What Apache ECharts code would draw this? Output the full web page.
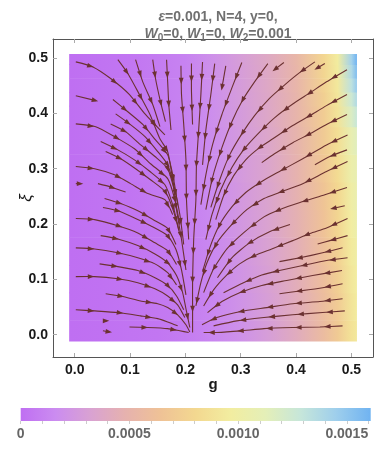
<!DOCTYPE html>
<html>
<head>
<meta charset="utf-8">
<script src="https://cdn.jsdelivr.net/npm/echarts@6.0.0/dist/echarts.min.js"></script>
<style>html,body{margin:0;padding:0;background:#fff}#main{width:375px;height:450px}</style>
</head>
<body>
<div id="main"></div>
<script>
// background density (units of 1e-4)
var gCols = [-0.01, 0.05, 0.1, 0.15, 0.2, 0.25, 0.3, 0.35, 0.4, 0.45, 0.475, 0.5, 0.51];
var xiRows = [0, 0.05, 0.1, 0.15, 0.2, 0.25, 0.3, 0.35, 0.4, 0.425, 0.45, 0.475, 0.5];
var densityE4 = [
	[0, 0.1, 0.3, 0.4, 0.7, 1.3, 2.0, 2.9, 4.1, 5.8, 7.0, 8.8, 9.3],
	[0, 0.1, 0.3, 0.5, 0.7, 1.3, 2.1, 3.0, 4.2, 5.9, 7.1, 9.0, 9.5],
	[0, 0.1, 0.3, 0.5, 0.8, 1.4, 2.2, 3.1, 4.3, 6.0, 7.3, 9.2, 9.7],
	[0, 0.1, 0.3, 0.5, 0.8, 1.4, 2.3, 3.2, 4.4, 6.2, 7.5, 9.4, 10.0],
	[0, 0.2, 0.3, 0.5, 0.9, 1.5, 2.4, 3.3, 4.6, 6.4, 7.8, 9.7, 10.3],
	[0, 0.2, 0.3, 0.6, 0.9, 1.6, 2.5, 3.4, 4.7, 6.6, 8.0, 10.0, 10.6],
	[0, 0.2, 0.4, 0.6, 1.0, 1.7, 2.6, 3.5, 4.8, 6.8, 8.3, 10.3, 10.8],
	[0, 0.2, 0.4, 0.6, 1.0, 1.7, 2.6, 3.6, 4.9, 7.0, 8.5, 10.8, 11.5],
	[0, 0.2, 0.4, 0.7, 1.0, 1.8, 2.7, 3.7, 5.0, 7.2, 8.9, 11.8, 12.8],
	[0, 0.2, 0.4, 0.7, 1.1, 1.85, 2.75, 3.75, 5.05, 7.4, 9.1, 12.5, 13.8],
	[0, 0.2, 0.4, 0.7, 1.1, 1.9, 2.8, 3.8, 5.1, 7.6, 9.3, 13.2, 14.8],
	[0, 0.2, 0.4, 0.7, 1.1, 1.95, 2.85, 3.85, 5.15, 7.8, 9.5, 13.8, 15.6],
	[0, 0.2, 0.4, 0.7, 1.1, 2.0, 2.9, 3.9, 5.2, 7.9, 9.6, 14.3, 16.2]
];
var vMax = 0.00161;
var palette = ['#bf6ff2', '#cb8cf0', '#d9a2d2', '#e6b2ae', '#efc296', '#f3d890', '#f2eda0', '#e4efb8', '#c6e6da', '#9fcfec', '#70b3f1'];

var xTicks = [0, 0.1, 0.2, 0.3, 0.4, 0.5];
var yTicks = [0, 0.1, 0.2, 0.3, 0.4, 0.5];
var barLabels = [0, 0.0005, 0.001, 0.0015];
var barTicks = [0, 0.0001, 0.0002, 0.0003, 0.0004, 0.0005, 0.0006, 0.0007, 0.0008, 0.0009, 0.001, 0.0011, 0.0012, 0.0013, 0.0014, 0.0015, 0.0016];

// stream lines [g, xi], in flow order
var leftStreams = [
	[[0.002,0.493],[0.033,0.484],[0.065,0.463],[0.099,0.434],[0.127,0.399],[0.163,0.361]],
	[[0.002,0.432],[0.038,0.423]],
	[[0.078,0.497],[0.096,0.472],[0.117,0.434],[0.136,0.398],[0.154,0.354],[0.168,0.331],[0.177,0.280],[0.184,0.226],[0.193,0.172],[0.201,0.117]],
	[[0.110,0.497],[0.123,0.457],[0.141,0.416],[0.154,0.376]],
	[[0.141,0.497],[0.146,0.463],[0.155,0.421],[0.164,0.385]],
	[[0.069,0.425],[0.096,0.403],[0.123,0.380],[0.146,0.352],[0.168,0.325],[0.179,0.280],[0.186,0.235]],
	[[0.074,0.399],[0.099,0.381],[0.127,0.358],[0.150,0.331],[0.168,0.307],[0.181,0.262],[0.190,0.217],[0.197,0.163]],
	[[0.002,0.381],[0.038,0.376],[0.072,0.358],[0.108,0.336],[0.137,0.309],[0.168,0.282],[0.181,0.244],[0.190,0.199]],
	[[0.065,0.381],[0.092,0.367],[0.117,0.345],[0.145,0.322],[0.168,0.300],[0.181,0.257]],
	[[0.047,0.349],[0.078,0.334],[0.108,0.316],[0.136,0.295],[0.163,0.271],[0.177,0.235],[0.188,0.190]],
	[[0.056,0.331],[0.083,0.318],[0.110,0.300],[0.137,0.280],[0.164,0.258],[0.179,0.222],[0.190,0.181]],
	[[0.002,0.304],[0.036,0.300],[0.072,0.289],[0.101,0.273],[0.132,0.255],[0.163,0.244],[0.177,0.217]],
	[[0.002,0.273],[0.011,0.273]],
	[[0.042,0.273],[0.065,0.267],[0.092,0.258]],
	[[0.054,0.246],[0.083,0.237],[0.114,0.224],[0.145,0.206],[0.168,0.192],[0.183,0.163]],
	[[0.051,0.230],[0.078,0.224],[0.108,0.211],[0.137,0.197],[0.168,0.179],[0.183,0.154],[0.193,0.117],[0.201,0.072]],
	[[0.002,0.210],[0.036,0.208],[0.078,0.197],[0.114,0.184],[0.145,0.166],[0.168,0.152],[0.184,0.127]],
	[[0.047,0.179],[0.078,0.173],[0.114,0.161],[0.145,0.146],[0.168,0.130],[0.184,0.107],[0.195,0.076],[0.202,0.042],[0.208,0.013]],
	[[0.002,0.157],[0.036,0.155],[0.078,0.148],[0.114,0.139],[0.145,0.128],[0.168,0.112],[0.184,0.090]],
	[[0.045,0.128],[0.078,0.123],[0.114,0.116],[0.145,0.103],[0.168,0.089],[0.184,0.070],[0.197,0.045]],
	[[0.002,0.105],[0.036,0.105],[0.078,0.101],[0.114,0.094],[0.145,0.083],[0.168,0.070],[0.186,0.054],[0.199,0.031]],
	[[0.056,0.074],[0.087,0.069],[0.119,0.061],[0.150,0.056],[0.168,0.049],[0.186,0.036],[0.201,0.018],[0.208,0.005]],
	[[0.002,0.045],[0.036,0.043],[0.078,0.040],[0.119,0.034],[0.150,0.029],[0.168,0.023],[0.186,0.016]],
	[[0.054,0.025],[0.058,0.025]],
	[[0.051,0.007],[0.063,0.005]],
	[[0.099,0.014],[0.132,0.013],[0.168,0.011],[0.190,0.007],[0.206,0.004]]
];
var centerStreams = [
	[[0.166,0.497],[0.168,0.457],[0.170,0.416],[0.174,0.370]],
	[[0.192,0.486],[0.193,0.434],[0.197,0.380],[0.201,0.316],[0.202,0.244],[0.206,0.172]],
	[[0.211,0.490],[0.211,0.439],[0.213,0.380]],
	[[0.231,0.493],[0.228,0.434],[0.224,0.370],[0.220,0.307],[0.219,0.244],[0.215,0.172],[0.213,0.099],[0.213,0.045],[0.213,0.004]],
	[[0.253,0.490],[0.246,0.434],[0.237,0.370],[0.231,0.307]],
	[[0.273,0.486],[0.266,0.446]],
	[[0.302,0.492],[0.284,0.446],[0.266,0.398],[0.249,0.343],[0.237,0.289],[0.228,0.235]],
	[[0.349,0.490],[0.325,0.457],[0.304,0.425],[0.284,0.385],[0.266,0.338],[0.249,0.284],[0.237,0.226]],
	[[0.378,0.492],[0.361,0.479]],
	[[0.452,0.490],[0.437,0.481]]
];
var rightStreams = [
	[[0.434,0.493],[0.407,0.474],[0.380,0.452],[0.352,0.427],[0.325,0.396],[0.302,0.363],[0.280,0.325],[0.262,0.280],[0.246,0.230]],
	[[0.492,0.479],[0.455,0.457],[0.425,0.437],[0.394,0.417],[0.361,0.392],[0.331,0.363],[0.305,0.334],[0.284,0.302],[0.264,0.262],[0.248,0.217],[0.237,0.172]],
	[[0.492,0.434],[0.455,0.414],[0.425,0.396],[0.394,0.378],[0.358,0.354],[0.334,0.338],[0.309,0.316],[0.287,0.287],[0.269,0.251],[0.255,0.208]],
	[[0.492,0.398],[0.455,0.380],[0.425,0.363],[0.394,0.347],[0.361,0.327],[0.338,0.311]],
	[[0.493,0.361],[0.455,0.343],[0.412,0.318],[0.370,0.295],[0.338,0.277],[0.309,0.257],[0.284,0.231],[0.262,0.199],[0.244,0.157],[0.231,0.114]],
	[[0.492,0.334],[0.461,0.322],[0.434,0.307]],
	[[0.493,0.313],[0.455,0.295],[0.412,0.273],[0.370,0.257],[0.342,0.246],[0.311,0.226],[0.282,0.197],[0.257,0.166],[0.239,0.130],[0.228,0.094],[0.219,0.052]],
	[[0.492,0.266],[0.452,0.253],[0.407,0.239],[0.370,0.226],[0.342,0.213],[0.305,0.184],[0.275,0.155],[0.251,0.119],[0.233,0.076]],
	[[0.488,0.233],[0.466,0.228]],
	[[0.389,0.199],[0.352,0.186],[0.316,0.166],[0.284,0.139],[0.258,0.103]],
	[[0.493,0.210],[0.455,0.193],[0.425,0.183],[0.394,0.170],[0.356,0.155],[0.325,0.143],[0.298,0.128],[0.275,0.108],[0.251,0.081],[0.233,0.052]],
	[[0.493,0.179],[0.461,0.170],[0.439,0.164]],
	[[0.484,0.157],[0.448,0.148],[0.407,0.139],[0.370,0.132]],
	[[0.493,0.139],[0.455,0.134],[0.412,0.125],[0.370,0.116],[0.338,0.108],[0.305,0.094],[0.269,0.076]],
	[[0.483,0.116],[0.430,0.107],[0.383,0.098],[0.338,0.089],[0.298,0.076],[0.266,0.060],[0.240,0.040]],
	[[0.484,0.092],[0.448,0.085],[0.407,0.079],[0.370,0.074]],
	[[0.484,0.065],[0.443,0.060],[0.394,0.056],[0.347,0.049],[0.300,0.042],[0.257,0.031],[0.230,0.018]],
	[[0.488,0.043],[0.448,0.040],[0.394,0.036],[0.342,0.031],[0.293,0.025],[0.251,0.016]],
	[[0.484,0.016],[0.443,0.014],[0.394,0.013],[0.342,0.011],[0.300,0.007],[0.257,0.004],[0.233,0.004]]
];

var streams = leftStreams.concat(centerStreams, rightStreams);
var lineColor = '#6b3131';
var frameColor = '#555';
var labelFont = {fontSize: 14, fontWeight: 'bold', color: '#1a1a1a'};

function colorOf(v){
	return echarts.color.lerp(Math.max(0, Math.min(v / vMax, 1)), palette);
}

// one horizontal band per density row
function renderBand(params, api){
	var j = params.dataIndex;
	var lo = j === 0 ? -0.0125 : (xiRows[j - 1] + xiRows[j]) / 2;
	var hi = j === xiRows.length - 1 ? 0.5075 : (xiRows[j] + xiRows[j + 1]) / 2;
	var g0 = gCols[0], g1 = gCols[gCols.length - 1];
	var p0 = api.coord([g0, hi]);
	var p1 = api.coord([g1, lo]);
	var stops = gCols.map(function(g, i){
		return {offset: (g - g0) / (g1 - g0), color: colorOf(densityE4[j][i] * 1e-4)};
	});
	var top = j === xiRows.length - 1 ? p0[1] : p0[1] - 0.6;
	return {
		type: 'rect',
		shape: {x: p0[0], y: top, width: p1[0] - p0[0], height: p1[1] - top},
		style: {fill: {type: 'linear', x: 0, y: 0, x2: 1, y2: 0, colorStops: stops}}
	};
}

function renderStream(params, api){
	var pts = streams[params.dataIndex].map(function(p){ return api.coord(p); });
	var kids = [{
		type: 'polyline',
		shape: {points: pts, smooth: 0.2},
		style: {stroke: lineColor, lineWidth: 1.1, fill: 'none'}
	}];
	var seg = [], total = 0;
	for (var i = 1; i < pts.length; i++){
		var d = Math.hypot(pts[i][0] - pts[i - 1][0], pts[i][1] - pts[i - 1][1]);
		seg.push(d);
		total += d;
	}
	var marks = [];
	if (total < 26) marks.push(total - 1);
	else for (var s = 15; s < total - 4; s += 29) marks.push(s);
	marks.forEach(function(s){
		var acc = 0;
		for (var k = 0; k < seg.length; k++){
			if (acc + seg[k] >= s || k === seg.length - 1){
				var t = Math.min(1, (s - acc) / seg[k]);
				var a = pts[k], b = pts[k + 1];
				var ux = (b[0] - a[0]) / seg[k], uy = (b[1] - a[1]) / seg[k];
				var cx = a[0] + (b[0] - a[0]) * t, cy = a[1] + (b[1] - a[1]) * t;
				kids.push({
					type: 'polygon',
					shape: {points: [
						[cx + ux * 3.5, cy + uy * 3.5],
						[cx - ux * 3 - uy * 2.4, cy - uy * 3 + ux * 2.4],
						[cx - ux * 3 + uy * 2.4, cy - uy * 3 - ux * 2.4]
					]},
					style: {fill: lineColor}
				});
				break;
			}
			acc += seg[k];
		}
	});
	return {type: 'group', children: kids};
}

function renderBar(params, api){
	var p0 = api.coord([0, 1]);
	var p1 = api.coord([vMax, 0]);
	return {
		type: 'rect',
		shape: {x: p0[0], y: p0[1], width: p1[0] - p0[0], height: p1[1] - p0[1]},
		style: {fill: {type: 'linear', x: 0, y: 0, x2: 1, y2: 0, colorStops: palette.map(function(c, i){
			return {offset: i / (palette.length - 1), color: c};
		})}}
	};
}

var chart = echarts.init(document.getElementById('main'));
var xMin = -0.0392, xMax = 0.539, yMin = -0.0403, yMax = 0.5344;
var frameTick = {inside: true, length: 4, lineStyle: {color: '#aaa'}};
var titleGray = '#707070';

chart.setOption({
	animation: false,
	backgroundColor: '#ffffff',
	textStyle: {fontFamily: 'Liberation Sans, Arial, sans-serif'},
	title: {
		text: '{i|ε}=0.001, N=4, y=0,\n{i|W}{s|0}=0, {i|W}{s|1}=0, {i|W}{s|2}=0.001',
		left: 213,
		top: 4,
		textAlign: 'center',
		textStyle: {
			fontSize: 14, fontWeight: 'bold', color: titleGray, lineHeight: 17,
			rich: {
				i: {fontSize: 14, fontStyle: 'italic', fontWeight: 'bold', color: titleGray, lineHeight: 17},
				s: {fontSize: 10, fontWeight: 'bold', color: titleGray, lineHeight: 10, verticalAlign: 'top', padding: [7, 0, 0, 0]}
			}
		}
	},
	grid: [
		{left: 53, top: 39, width: 320, height: 318, outerBoundsMode: 'none'},
		{left: 20.7, top: 408, width: 350, height: 13, outerBoundsMode: 'none'}
	],
	xAxis: [
		{
			gridIndex: 0, type: 'value', min: xMin, max: xMax,
			name: 'g', nameLocation: 'middle', nameGap: 20, nameMoveOverlap: false,
			nameTextStyle: {fontSize: 15, fontWeight: 'bold', color: '#1a1a1a'},
			axisLine: {onZero: false, lineStyle: {color: frameColor}},
			axisTick: Object.assign({customValues: xTicks}, frameTick),
			axisLabel: Object.assign({customValues: xTicks, margin: 6, formatter: function(v){ return v.toFixed(1); }}, labelFont),
			splitLine: {show: false}
		},
		{
			gridIndex: 0, type: 'value', position: 'top', min: xMin, max: xMax,
			axisLine: {onZero: false, lineStyle: {color: frameColor}},
			axisTick: Object.assign({customValues: xTicks}, frameTick),
			axisLabel: {show: false},
			splitLine: {show: false}
		},
		{
			gridIndex: 1, type: 'value', min: 0, max: vMax,
			axisLine: {show: false},
			axisTick: {customValues: barTicks, length: 3, lineStyle: {color: '#ccc'}},
			axisLabel: {customValues: barLabels, margin: 6, fontSize: 14, fontWeight: 'bold', color: '#666',
				formatter: function(v){ return v === 0 ? '0' : v.toFixed(4); }},
			splitLine: {show: false}
		}
	],
	yAxis: [
		{
			gridIndex: 0, type: 'value', min: yMin, max: yMax,
			name: 'ξ', nameLocation: 'middle', nameGap: 18, nameRotate: 90, nameMoveOverlap: false,
			nameTextStyle: {fontSize: 17, fontStyle: 'italic', color: '#1a1a1a'},
			axisLine: {onZero: false, lineStyle: {color: frameColor}},
			axisTick: Object.assign({customValues: yTicks}, frameTick),
			axisLabel: Object.assign({customValues: yTicks, margin: 5, formatter: function(v){ return v.toFixed(1); }}, labelFont),
			splitLine: {show: false}
		},
		{
			gridIndex: 0, type: 'value', position: 'right', min: yMin, max: yMax,
			axisLine: {onZero: false, lineStyle: {color: frameColor}},
			axisTick: Object.assign({customValues: yTicks}, frameTick),
			axisLabel: {show: false},
			splitLine: {show: false}
		},
		{gridIndex: 1, type: 'value', min: 0, max: 1, show: false}
	],
	series: [
		{
			type: 'custom', xAxisIndex: 0, yAxisIndex: 0, z: 1, silent: true, clip: true,
			renderItem: renderBand,
			data: xiRows.map(function(xi){ return [gCols[0], xi]; })
		},
		{
			type: 'custom', xAxisIndex: 0, yAxisIndex: 0, z: 2, silent: true, clip: true,
			renderItem: renderStream,
			data: streams.map(function(s){ return s[0]; })
		},
		{
			type: 'custom', xAxisIndex: 2, yAxisIndex: 2, silent: true,
			renderItem: renderBar,
			data: [[0, 0]]
		}
	]
});
</script>
</body>
</html>
